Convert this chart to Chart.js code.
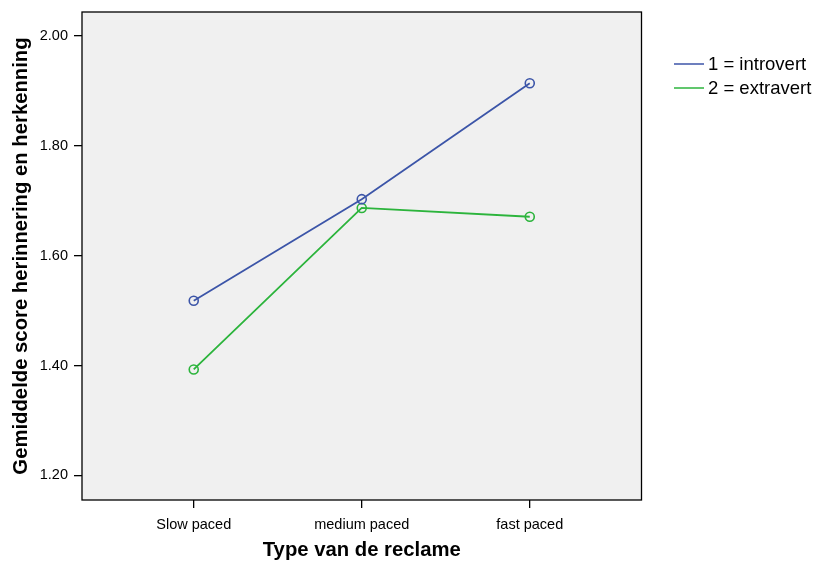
<!DOCTYPE html>
<html>
<head>
<meta charset="utf-8">
<script src="https://cdn.jsdelivr.net/npm/chart.js@4/dist/chart.umd.min.js"></script>
<style>
  html, body { margin: 0; padding: 0; background: #fff; }
  #wrap { width: 813px; height: 563px; }
</style>
</head>
<body>
<div id="wrap"><canvas id="chart" width="813" height="563"></canvas></div>
<script>
const categories = ["Slow paced", "medium paced", "fast paced"];
const introvert = [1.518, 1.703, 1.914];
const extravert = [1.393, 1.687, 1.671];
const seriesNames = ["1 = introvert", "2 = extravert"];
const yTicks = [1.2, 1.4, 1.6, 1.8, 2.0];

const blue = "#3c55a8";
const green = "#2cb43c";
const font = "'Liberation Sans', Arial, sans-serif";

// grey plot box + black frame
const plotBox = {
  id: "plotBox",
  beforeDraw(chart) {
    const { ctx, chartArea: a } = chart;
    ctx.save();
    ctx.fillStyle = "#f0f0f0";
    ctx.fillRect(a.left, a.top, a.right - a.left, a.bottom - a.top);
    ctx.restore();
  },
  afterDatasetsDraw(chart) {
    const { ctx, chartArea: a } = chart;
    ctx.save();
    ctx.strokeStyle = "#000";
    ctx.lineWidth = 1.3;
    ctx.strokeRect(a.left, a.top, a.right - a.left, a.bottom - a.top);
    ctx.restore();
  }
};

// legend on the right, line samples
const sideLegend = {
  id: "sideLegend",
  afterDraw(chart) {
    const { ctx } = chart;
    ctx.save();
    ctx.font = "18.5px " + font;
    ctx.textBaseline = "middle";
    chart.data.datasets.forEach((ds, i) => {
      const y = 64 + i * 24;
      ctx.strokeStyle = ds.borderColor;
      ctx.lineWidth = 1.5;
      ctx.beginPath();
      ctx.moveTo(674, y);
      ctx.lineTo(704, y);
      ctx.stroke();
      ctx.fillStyle = "#000";
      ctx.fillText(ds.label, 708, y + 1);
    });
    ctx.restore();
  }
};

const toPoints = (vals) => vals.map((v, i) => ({ x: i, y: v }));

function series(label, vals, color) {
  return {
    label,
    data: toPoints(vals),
    borderColor: color,
    backgroundColor: "transparent",
    borderWidth: 1.8,
    pointRadius: 4.5,
    pointBorderWidth: 1.6,
    pointBackgroundColor: "transparent",
    pointBorderColor: color,
    tension: 0
  };
}

new Chart(document.getElementById("chart"), {
  type: "line",
  data: {
    datasets: [
      series(seriesNames[0], introvert, blue),
      series(seriesNames[1], extravert, green)
    ]
  },
  options: {
    responsive: false,
    animation: false,
    layout: { padding: { top: 12, right: 171.5, bottom: 0, left: 0 } },
    plugins: {
      legend: { display: false },
      tooltip: { enabled: false }
    },
    scales: {
      x: {
        type: "linear",
        min: -0.665,
        max: 2.665,
        afterBuildTicks: (s) => { s.ticks = categories.map((c, i) => ({ value: i })); },
        afterFit: (s) => { s.height = 63; s.paddingLeft = 0; s.paddingRight = 0; },
        ticks: {
          callback: (v) => categories[v],
          color: "#000",
          font: { family: font, size: 14.5 },
          padding: 8,
          maxRotation: 0
        },
        grid: { drawOnChartArea: false, drawTicks: true, tickLength: 8, color: "#000", lineWidth: 1.3 },
        border: { display: false },
        title: {
          display: true,
          text: "Type van de reclame",
          color: "#000",
          font: { family: font, size: 20.3, weight: "bold" },
          padding: { top: 0, bottom: 0 }
        }
      },
      y: {
        min: 1.1554,
        max: 2.0437,
        afterBuildTicks: (s) => { s.ticks = yTicks.map((v) => ({ value: v })); },
        afterFit: (s) => { s.width = 82; s.paddingTop = 0; s.paddingBottom = 0; },
        ticks: {
          callback: (v) => v.toFixed(2),
          color: "#000",
          font: { family: font, size: 14.5 },
          padding: 6
        },
        grid: { drawOnChartArea: false, drawTicks: true, tickLength: 8, color: "#000", lineWidth: 1.3 },
        border: { display: false },
        title: {
          display: true,
          text: "Gemiddelde score herinnering en herkenning",
          color: "#000",
          font: { family: font, size: 20.3, weight: "bold" },
          padding: { top: 9, bottom: 0 }
        }
      }
    }
  },
  plugins: [plotBox, sideLegend]
});
</script>
</body>
</html>
